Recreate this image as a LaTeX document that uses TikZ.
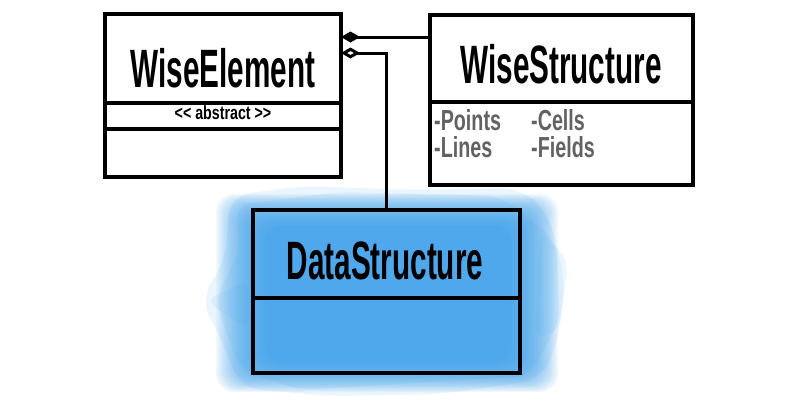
\documentclass[tikz,border=0pt]{standalone}
\usepackage{fontspec}
\usetikzlibrary{arrows.meta}
\newfontfamily\titlefont{Liberation Sans}[FakeStretch=0.55]
\newfontfamily\attrfont{Liberation Sans}[FakeStretch=0.68]
\newfontfamily\stereofont{Liberation Sans}[FakeStretch=0.75]
\definecolor{dsblue}{RGB}{62,162,236}
\definecolor{washblue}{RGB}{120,190,242}
\definecolor{attrgray}{RGB}{98,98,98}
\tikzset{
  umlbox/.style={draw=black, line width=4pt, inner sep=0pt, outer sep=0pt},
  divider/.style={line width=4pt},
  conn/.style={line width=3pt},
  titletext/.style={anchor=base, inner sep=0pt, font=\titlefont\bfseries\fontsize{54}{54}\selectfont},
  attrtext/.style={anchor=base west, inner sep=0pt, text height=20pt, text depth=0pt, text=attrgray, font=\attrfont\bfseries\fontsize{29}{29}\selectfont},
  stereo/.style={anchor=base, inner sep=0pt, font=\stereofont\bfseries\fontsize{19}{19}\selectfont},
  wash/.style={fill=washblue, fill opacity=0.14, draw=none},
  layer/.style={fill=dsblue, fill opacity=0.07, draw=none}
}
\begin{document}
\begin{tikzpicture}[x=1pt,y=-1pt]
\useasboundingbox[fill=white] (0,0) rectangle (800,400);

% blue wash behind DataStructure: irregular soft edges
\fill[wash, rounded corners=20pt] (230,196) -- (300,186) -- (420,190) -- (520,188) -- (548,212) -- (565,280) -- (556,350) -- (540,380) -- (440,394) -- (330,396) -- (240,388) -- (222,340) -- (200,300) -- (225,262) -- cycle;
\fill[wash, rounded corners=15pt] (215,300) -- (240,250) -- (236,205) -- (340,192) -- (500,196) -- (556,240) -- (560,320) -- (530,376) -- (300,390) -- (240,370) -- cycle;
\fill[wash, rounded corners=12pt] (205,300) -- (250,280) -- (248,330) -- cycle;
\fill[wash, rounded corners=12pt] (540,230) -- (568,260) -- (560,330) -- (535,340) -- cycle;
% soft gradient core
\foreach \i in {0,...,25}{
  \pgfmathsetmacro{\xa}{216+2.0*\i}
  \pgfmathsetmacro{\ya}{194+1.3*\i}
  \pgfmathsetmacro{\xb}{558-1.9*\i}
  \pgfmathsetmacro{\yb}{392-1.2*\i}
  \fill[layer, rounded corners=18pt] (\xa,\ya) rectangle (\xb,\yb);
}

% boxes
\node[umlbox, minimum width=236pt, minimum height=163pt] (we) at (223,95.5) {};
\node[umlbox, minimum width=263pt, minimum height=170pt] (ws) at (561.5,99.5) {};
\node[umlbox, minimum width=267pt, minimum height=163pt] (ds) at (386.5,291.5) {};

% dividers
\draw[divider] (we.west |- 0,103) -- (we.east |- 0,103);
\draw[divider] (we.west |- 0,129) -- (we.east |- 0,129);
\draw[divider] (ws.west |- 0,102) -- (ws.east |- 0,102);
\draw[divider] (ds.west |- 0,298) -- (ds.east |- 0,298);

% texts
\node[titletext] (t1) at (223,87) {WiseElement};
\node[titletext] (t2) at (561,83) {WiseStructure};
\node[titletext] (t3) at (385,279) {DataStructure};
\node[stereo] (st) at (223,119) {<< abstract >>};
\node[attrtext] (a1) at (434,130) {-Points};
\node[attrtext] (a2) at (531,130) {-Cells};
\node[attrtext] (a3) at (434,157) {-Lines};
\node[attrtext] (a4) at (531,157) {-Fields};

% connectors
\coordinate (c1) at (we.east |- 0,37);
\coordinate (c2) at (ws.west |- 0,37);
\coordinate (c3) at (we.east |- 0,53);
\draw[conn, {Diamond[length=19pt,width=11pt]}-] (c1) -- (c2);
\draw[conn, {Diamond[open,length=19pt,width=11pt,fill=white]}-] (c3) -| (ds.north);
\end{tikzpicture}
\end{document}
